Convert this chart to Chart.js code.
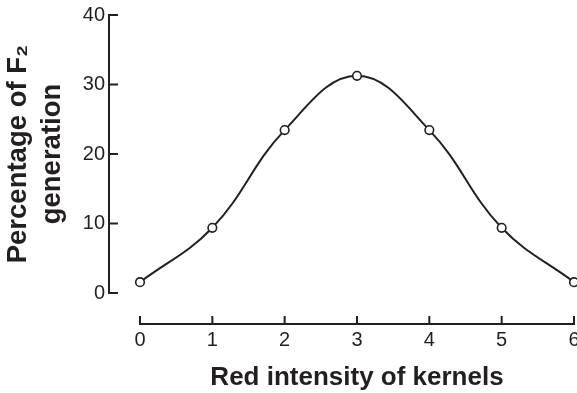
<!DOCTYPE html>
<html><head><meta charset="utf-8">
<script src="https://cdn.jsdelivr.net/npm/chart.js@4"></script>
<style>html,body{margin:0;padding:0;background:#fff}#wrap{width:577px;height:393px}</style>
</head><body><div id="wrap"><canvas id="c" width="577" height="393"></canvas></div>
<script>
const categories = [0, 1, 2, 3, 4, 5, 6];
const percentages = [1.56, 9.38, 23.44, 31.25, 23.44, 9.38, 1.56];
const yTickValues = [0, 10, 20, 30, 40];
const xTitle = 'Red intensity of kernels';
const yTitle = ['Percentage of F\u2082', 'generation'];

const INK = '#231f20';
const FONT = "'Liberation Sans', Arial, Helvetica, sans-serif";

const axesPlugin = {
  id: 'offsetAxes',
  afterDraw(chart) {
    const { ctx, scales: { x, y } } = chart;
    const x0 = x.getPixelForValue(categories[0]);
    const xN = x.getPixelForValue(categories[categories.length - 1]);
    const yBottom = y.getPixelForValue(yTickValues[0]);
    const yTop = y.getPixelForValue(yTickValues[yTickValues.length - 1]);
    const axX = x0 - 31;       // y-axis line position
    const axY = yBottom + 31;  // x-axis line position
    ctx.save();
    ctx.strokeStyle = INK;
    ctx.lineWidth = 2;
    ctx.lineJoin = 'miter';
    ctx.lineCap = 'butt';
    ctx.beginPath();
    ctx.moveTo(axX + 9, yTop);
    ctx.lineTo(axX, yTop);
    ctx.lineTo(axX, yBottom);
    ctx.lineTo(axX + 9, yBottom);
    yTickValues.slice(1, -1).forEach(v => {
      const p = y.getPixelForValue(v);
      ctx.moveTo(axX, p);
      ctx.lineTo(axX + 9, p);
    });
    ctx.stroke();
    ctx.beginPath();
    ctx.moveTo(x0, axY - 8);
    ctx.lineTo(x0, axY);
    ctx.lineTo(xN, axY);
    ctx.lineTo(xN, axY - 8);
    categories.slice(1, -1).forEach(v => {
      const p = x.getPixelForValue(v);
      ctx.moveTo(p, axY);
      ctx.lineTo(p, axY - 8);
    });
    ctx.stroke();
    ctx.restore();
  }
};

function noPad(s) { s.paddingLeft = 0; s.paddingRight = 0; s.paddingTop = 0; s.paddingBottom = 0; }

new Chart(document.getElementById('c'), {
  type: 'line',
  data: {
    datasets: [{
      data: categories.map((c, i) => ({ x: c, y: percentages[i] })),
      borderColor: INK,
      borderWidth: 2,
      tension: 0.4,
      pointRadius: 4.3,
      pointBorderWidth: 1.6,
      pointBackgroundColor: '#ffffff',
      pointBorderColor: INK,
      clip: false
    }]
  },
  options: {
    responsive: false,
    animation: false,
    layout: { autoPadding: false, padding: { top: 15, right: 3, left: 0, bottom: 0 } },
    plugins: { legend: { display: false }, tooltip: { enabled: false } },
    scales: {
      x: {
        type: 'linear',
        min: categories[0],
        max: categories[categories.length - 1],
        afterBuildTicks: s => { s.ticks = categories.map(v => ({ value: v })); },
        afterFit: s => { s.height = 100; noPad(s); },
        grid: { display: false, drawTicks: false },
        border: { display: false },
        ticks: { color: INK, padding: 35, font: { family: FONT, size: 20 }, maxRotation: 0, autoSkip: false },
        title: { display: true, text: xTitle, color: INK, padding: { top: 0, bottom: 0 },
                 font: { family: FONT, size: 26, weight: 'bold', lineHeight: 1.2 } }
      },
      y: {
        min: yTickValues[0],
        max: yTickValues[yTickValues.length - 1],
        afterBuildTicks: s => { s.ticks = yTickValues.map(v => ({ value: v })); },
        afterFit: s => { s.width = 140; noPad(s); },
        grid: { display: false, drawTicks: false },
        border: { display: false },
        ticks: { color: INK, padding: 35, font: { family: FONT, size: 20 } },
        title: { display: true, text: yTitle, color: INK, padding: { top: 1, bottom: 0 },
                 font: { family: FONT, size: 27.5, weight: 'bold', lineHeight: 1.25 } }
      }
    }
  },
  plugins: [axesPlugin]
});
</script>
</body></html>
